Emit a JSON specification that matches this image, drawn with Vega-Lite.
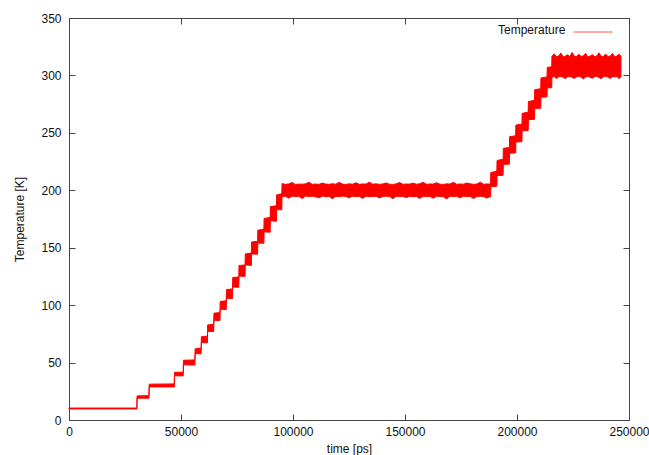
{
  "$schema": "https://vega.github.io/schema/vega-lite/v6.json",
  "width": 560,
  "height": 402,
  "autosize": "none",
  "padding": {"left": 69, "top": 18, "right": 20, "bottom": 35},
  "background": "white",
  "config": {
    "view": {"stroke": "#444444", "strokeWidth": 1},
    "font": "Liberation Sans",
    "axis": {
      "grid": false,
      "domain": false,
      "tickColor": "#444444",
      "tickSize": -6,
      "labelFont": "Liberation Sans",
      "labelFontSize": 12,
      "labelColor": "#111111",
      "labelFlush": false,
      "labelOverlap": false,
      "titleFont": "Liberation Sans",
      "titleFontSize": 12,
      "titleFontWeight": "normal",
      "titleColor": "#111111"
    }
  },
  "data": {"values": [
    {"t": 0, "lo": 9.6, "hi": 10.4}, {"t": 30300, "lo": 9.6, "hi": 10.4},
    {"t": 30400, "lo": 19, "hi": 21}, {"t": 35700, "lo": 19, "hi": 21.2},
    {"t": 35800, "lo": 28.8, "hi": 31.2}, {"t": 47000, "lo": 28.8, "hi": 31.4},
    {"t": 47100, "lo": 38.5, "hi": 41.5}, {"t": 51000, "lo": 38.4, "hi": 41.6},
    {"t": 51100, "lo": 48, "hi": 52}, {"t": 56200, "lo": 47.8, "hi": 52.3},
    {"t": 56300, "lo": 57.8, "hi": 62}, {"t": 59000, "lo": 57.6, "hi": 62.6},
    {"t": 59100, "lo": 67.5, "hi": 72.5}, {"t": 61800, "lo": 67.3, "hi": 73},
    {"t": 61900, "lo": 77.2, "hi": 82.8}, {"t": 64600, "lo": 77, "hi": 83.3},
    {"t": 64700, "lo": 86.8, "hi": 93}, {"t": 67400, "lo": 86.6, "hi": 93.5},
    {"t": 67500, "lo": 96.5, "hi": 103.2}, {"t": 70200, "lo": 96.2, "hi": 103.8},
    {"t": 70300, "lo": 106, "hi": 113.5}, {"t": 73000, "lo": 105.8, "hi": 114.2},
    {"t": 73100, "lo": 115.8, "hi": 124}, {"t": 75800, "lo": 115.5, "hi": 124.5},
    {"t": 75900, "lo": 125.3, "hi": 134.5}, {"t": 78600, "lo": 125, "hi": 135},
    {"t": 78700, "lo": 135, "hi": 144.6}, {"t": 81400, "lo": 134.6, "hi": 145.3},
    {"t": 81500, "lo": 144.6, "hi": 155}, {"t": 84200, "lo": 144.3, "hi": 155.6},
    {"t": 84300, "lo": 154.2, "hi": 165.3}, {"t": 87000, "lo": 153.8, "hi": 166},
    {"t": 87100, "lo": 163.8, "hi": 175.5}, {"t": 89800, "lo": 163.5, "hi": 176.3},
    {"t": 89900, "lo": 173.5, "hi": 185.8}, {"t": 92600, "lo": 173, "hi": 186.5},
    {"t": 92700, "lo": 183.2, "hi": 196}, {"t": 95000, "lo": 183, "hi": 197},
    {"t": 95100, "lo": 194.6, "hi": 205.8}, {"t": 96600, "lo": 194.8, "hi": 205.2},
    {"t": 98100, "lo": 193.2, "hi": 205.5}, {"t": 99600, "lo": 194.9, "hi": 206.8},
    {"t": 101100, "lo": 194.5, "hi": 205.1}, {"t": 102600, "lo": 194.7, "hi": 205.4},
    {"t": 104100, "lo": 192.8, "hi": 205.3}, {"t": 105600, "lo": 195, "hi": 205.6},
    {"t": 107100, "lo": 194.6, "hi": 207}, {"t": 108600, "lo": 194.8, "hi": 205.2},
    {"t": 110100, "lo": 194.3, "hi": 205.5}, {"t": 111600, "lo": 193.4, "hi": 205.1},
    {"t": 113100, "lo": 194.9, "hi": 206.3}, {"t": 114600, "lo": 194.5, "hi": 205.4},
    {"t": 116100, "lo": 194.7, "hi": 205.2}, {"t": 117600, "lo": 192.6, "hi": 205.7},
    {"t": 119100, "lo": 194.8, "hi": 205.3}, {"t": 120600, "lo": 194.4, "hi": 206.9},
    {"t": 122100, "lo": 195, "hi": 205.4}, {"t": 123600, "lo": 194.6, "hi": 205.1},
    {"t": 125100, "lo": 193.5, "hi": 205.6}, {"t": 126600, "lo": 194.8, "hi": 205.3},
    {"t": 128100, "lo": 194.5, "hi": 206.5}, {"t": 129600, "lo": 194.7, "hi": 205.2},
    {"t": 131100, "lo": 192.9, "hi": 205.5}, {"t": 132600, "lo": 194.9, "hi": 205.4},
    {"t": 134100, "lo": 194.4, "hi": 207.1}, {"t": 135600, "lo": 194.6, "hi": 205.3},
    {"t": 137100, "lo": 194.8, "hi": 205.6}, {"t": 138600, "lo": 193.3, "hi": 205.2},
    {"t": 140100, "lo": 194.5, "hi": 205.5}, {"t": 141600, "lo": 194.9, "hi": 206.4},
    {"t": 143100, "lo": 194.6, "hi": 205.3}, {"t": 144600, "lo": 192.7, "hi": 205.1},
    {"t": 146100, "lo": 194.8, "hi": 205.6}, {"t": 147600, "lo": 194.5, "hi": 206.8},
    {"t": 149100, "lo": 194.7, "hi": 205.2}, {"t": 150600, "lo": 193.6, "hi": 205.5},
    {"t": 152100, "lo": 194.9, "hi": 205.4}, {"t": 153600, "lo": 194.4, "hi": 206.2},
    {"t": 155100, "lo": 194.6, "hi": 205.3}, {"t": 156600, "lo": 192.9, "hi": 205.6},
    {"t": 158100, "lo": 194.8, "hi": 207}, {"t": 159600, "lo": 194.5, "hi": 205.2},
    {"t": 161100, "lo": 194.7, "hi": 205.5}, {"t": 162600, "lo": 193.1, "hi": 205.4},
    {"t": 164100, "lo": 194.9, "hi": 206.6}, {"t": 165600, "lo": 194.6, "hi": 205.3},
    {"t": 167100, "lo": 194.4, "hi": 205.1}, {"t": 168600, "lo": 192.5, "hi": 205.6},
    {"t": 170100, "lo": 194.8, "hi": 205.4}, {"t": 171600, "lo": 194.6, "hi": 206.9},
    {"t": 173100, "lo": 194.7, "hi": 205.2}, {"t": 174600, "lo": 193.4, "hi": 205.5},
    {"t": 176100, "lo": 194.9, "hi": 205.3}, {"t": 177600, "lo": 194.5, "hi": 206.3},
    {"t": 179100, "lo": 194.7, "hi": 205.6}, {"t": 180600, "lo": 192.8, "hi": 205.2},
    {"t": 182100, "lo": 194.6, "hi": 205.4}, {"t": 183600, "lo": 194.8, "hi": 207.1},
    {"t": 185100, "lo": 194.5, "hi": 205.3}, {"t": 186600, "lo": 193.2, "hi": 205.5},
    {"t": 188200, "lo": 194.6, "hi": 205.4},
    {"t": 188300, "lo": 203.2, "hi": 215.5}, {"t": 191000, "lo": 203.5, "hi": 216.5},
    {"t": 191100, "lo": 212.8, "hi": 226}, {"t": 193800, "lo": 213, "hi": 227},
    {"t": 193900, "lo": 222.5, "hi": 236.5}, {"t": 196600, "lo": 222.8, "hi": 237.3},
    {"t": 196700, "lo": 232.3, "hi": 246.6}, {"t": 199400, "lo": 232.5, "hi": 247.5},
    {"t": 199500, "lo": 242, "hi": 256.8}, {"t": 202200, "lo": 242.3, "hi": 257.6},
    {"t": 202300, "lo": 251.8, "hi": 267}, {"t": 205000, "lo": 252, "hi": 268},
    {"t": 205100, "lo": 261.5, "hi": 277.3}, {"t": 207800, "lo": 261.8, "hi": 278.3},
    {"t": 207900, "lo": 271.2, "hi": 287.5}, {"t": 210600, "lo": 271.5, "hi": 288.5},
    {"t": 210700, "lo": 281, "hi": 297.8}, {"t": 213400, "lo": 281.3, "hi": 298.7},
    {"t": 213500, "lo": 289, "hi": 307}, {"t": 215500, "lo": 289.3, "hi": 307.5},
    {"t": 215600, "lo": 298.6, "hi": 316.6}, {"t": 216600, "lo": 299, "hi": 318.8},
    {"t": 217600, "lo": 297.3, "hi": 316.4}, {"t": 218600, "lo": 298.8, "hi": 316.9},
    {"t": 219600, "lo": 299.1, "hi": 319.5}, {"t": 220600, "lo": 298.5, "hi": 316.3},
    {"t": 221600, "lo": 297.2, "hi": 316.8}, {"t": 222600, "lo": 298.9, "hi": 317.9},
    {"t": 223600, "lo": 299, "hi": 316.5}, {"t": 224600, "lo": 298.4, "hi": 320},
    {"t": 225600, "lo": 297.4, "hi": 316.7}, {"t": 226600, "lo": 298.8, "hi": 316.4},
    {"t": 227600, "lo": 299.2, "hi": 318.4}, {"t": 228600, "lo": 298.6, "hi": 316.6},
    {"t": 229600, "lo": 296.9, "hi": 316.9}, {"t": 230600, "lo": 298.7, "hi": 319.2},
    {"t": 231600, "lo": 299, "hi": 316.3}, {"t": 232600, "lo": 298.5, "hi": 316.8},
    {"t": 233600, "lo": 297.5, "hi": 318.1}, {"t": 234600, "lo": 298.9, "hi": 316.5},
    {"t": 235600, "lo": 299.1, "hi": 316.9}, {"t": 236600, "lo": 298.3, "hi": 319.7},
    {"t": 237600, "lo": 297.1, "hi": 316.4}, {"t": 238600, "lo": 298.8, "hi": 316.7},
    {"t": 239600, "lo": 299, "hi": 318.6}, {"t": 240600, "lo": 298.6, "hi": 316.5},
    {"t": 241600, "lo": 297.4, "hi": 316.8}, {"t": 242600, "lo": 298.9, "hi": 319.1},
    {"t": 243600, "lo": 298.7, "hi": 316.4}, {"t": 244600, "lo": 299.1, "hi": 316.9},
    {"t": 245600, "lo": 297.3, "hi": 318.5}, {"t": 246400, "lo": 298.7, "hi": 316.8}
  ]},
  "layer": [
    {
      "mark": {"type": "area", "stroke": "#ff0000", "strokeWidth": 1, "opacity": 1, "interpolate": "linear"},
      "encoding": {
        "x": {"field": "t", "type": "quantitative",
              "scale": {"domain": [0, 250000], "nice": false},
              "axis": {"orient": "bottom", "values": [0, 50000, 100000, 150000, 200000, 250000], "format": "d",
                       "title": "time [ps]", "labelPadding": 12, "titlePadding": 6}},
        "y": {"field": "lo", "type": "quantitative",
              "scale": {"domain": [0, 350], "nice": false},
              "axis": {"orient": "left", "values": [0, 50, 100, 150, 200, 250, 300, 350],
                       "title": "Temperature [K]", "labelPadding": 14, "titlePadding": 14}},
        "y2": {"field": "hi"},
        "color": {"datum": "Temperature", "type": "nominal",
                  "scale": {"range": ["#ff0000"]},
                  "legend": {"orient": "none", "legendX": 429, "legendY": -6,
                             "title": "Temperature", "titleOrient": "left",
                             "titleAnchor": "middle", "titleBaseline": "top",
                             "titleFont": "Liberation Sans", "titleFontSize": 12, "titleFontWeight": "normal",
                             "titleColor": "#111111", "titlePadding": 7,
                             "labelExpr": "''", "symbolType": "stroke", "symbolSize": 1521,
                             "symbolStrokeColor": "#ff5555", "symbolStrokeWidth": 1,
                             "encode": {"symbols": {"update": {"stroke": {"value": "#ff5555"}, "strokeWidth": {"value": 1}}}}}}
      }
    },
    {
      "mark": {"type": "point", "opacity": 0},
      "encoding": {
        "x": {"field": "t", "type": "quantitative",
              "scale": {"domain": [0, 250000], "nice": false},
              "axis": {"orient": "top", "values": [0, 50000, 100000, 150000, 200000, 250000], "labels": false, "title": null}},
        "y": {"field": "lo", "type": "quantitative",
              "scale": {"domain": [0, 350], "nice": false},
              "axis": {"orient": "right", "values": [0, 50, 100, 150, 200, 250, 300, 350], "labels": false, "title": null}}
      }
    }
  ],
  "resolve": {"axis": {"x": "independent", "y": "independent"}}
}
